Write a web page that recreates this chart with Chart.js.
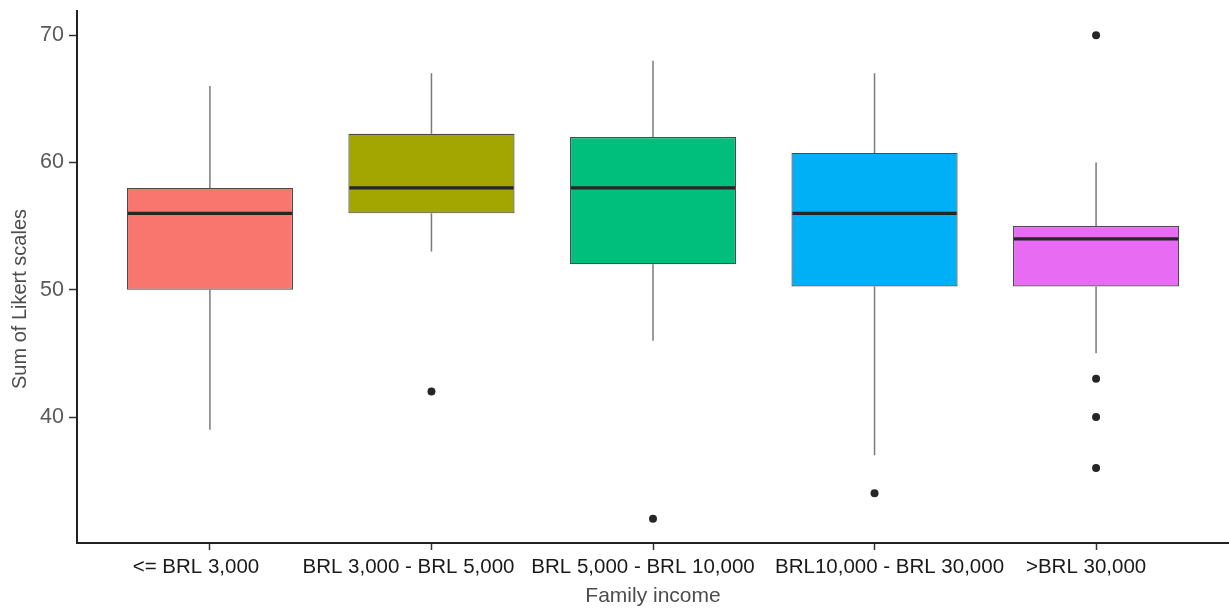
<!DOCTYPE html>
<html>
<head>
<meta charset="utf-8">
<title>Sum of Likert scales by family income</title>
<script src="https://cdn.jsdelivr.net/npm/chart.js@4/dist/chart.umd.min.js"></script>
<style>
  html, body { margin: 0; padding: 0; background: #ffffff; }
  #wrap { width: 1229px; height: 610px; position: relative; }
</style>
</head>
<body>
<div id="wrap"><canvas id="chart"></canvas></div>
<script>
// Income groups and box-plot summaries (Sum of Likert scales)
const categories = ['<= BRL 3,000', 'BRL 3,000 - BRL 5,000', 'BRL 5,000 - BRL 10,000', 'BRL10,000 - BRL 30,000', '>BRL 30,000'];
const whiskerLow  = [39, 53, 46, 37, 45];
const q1          = [50, 56, 52, 50.25, 50.25];
const median      = [56, 58, 58, 56, 54];
const q3          = [58, 62.25, 62, 60.75, 55];
const whiskerHigh = [66, 67, 68, 67, 60];
const outliers    = [[], [42], [32], [34], [70, 43, 40, 36]];
const yTicks      = [40, 50, 60, 70];

const palette = ['#F8766D', '#A3A500', '#00BF7D', '#00B0F6', '#E76BF3'];
const FONT = '"Liberation Sans", Arial, Helvetica, sans-serif';
// horizontal nudge of each category label relative to its tick (px)
const labelNudge = [-14, -23, -10, 15, -10];

const boxData = categories.map((c, i) => ({ x: i + 1, y: [q1[i], q3[i]] }));
const outlierData = [];
outliers.forEach((vals, i) => vals.forEach(v => outlierData.push({ x: i + 1, y: v })));

// Whiskers and median lines, positioned through the chart scales
const boxExtras = {
  id: 'boxExtras',
  afterDatasetsDraw(chart) {
    const { ctx, scales: { x, y } } = chart;
    const meta = chart.getDatasetMeta(0);
    ctx.save();
    categories.forEach((c, i) => {
      const cx = x.getPixelForValue(i + 1);
      ctx.strokeStyle = '#7a7a7a';
      ctx.lineWidth = 1.5;
      ctx.beginPath();
      ctx.moveTo(cx, y.getPixelForValue(q3[i]));
      ctx.lineTo(cx, y.getPixelForValue(whiskerHigh[i]));
      ctx.moveTo(cx, y.getPixelForValue(q1[i]));
      ctx.lineTo(cx, y.getPixelForValue(whiskerLow[i]));
      ctx.stroke();

      const bar = meta.data[i];
      const half = bar.width / 2;
      const my = y.getPixelForValue(median[i]);
      ctx.strokeStyle = '#262626';
      ctx.lineWidth = 3.3;
      ctx.beginPath();
      ctx.moveTo(bar.x - half + 1, my);
      ctx.lineTo(bar.x + half - 1, my);
      ctx.stroke();
    });
    ctx.restore();
  }
};

// Category labels under the x axis and the y-axis title
const axisText = {
  id: 'axisText',
  afterDraw(chart) {
    const { ctx, chartArea, scales: { x } } = chart;
    ctx.save();
    ctx.fillStyle = '#1a1a1a';
    ctx.font = '20.5px ' + FONT;
    ctx.textAlign = 'center';
    ctx.textBaseline = 'middle';
    categories.forEach((c, i) => {
      ctx.fillText(c, x.getPixelForValue(i + 1) + labelNudge[i], x.top + 24);
    });

    ctx.translate(20, (chartArea.top + chartArea.bottom) / 2 + 22);
    ctx.rotate(-Math.PI / 2);
    ctx.fillStyle = '#4d4d4d';
    ctx.font = '20px ' + FONT;
    ctx.fillText('Sum of Likert scales', 0, 0);
    ctx.restore();
  }
};

// Keep the plot area edges exactly where the layout padding puts them
function noEdgePadding(scale) {
  scale.paddingTop = 0;
  scale.paddingBottom = 0;
  scale.paddingLeft = 0;
  scale.paddingRight = 0;
}

new Chart(document.getElementById('chart'), {
  type: 'bar',
  data: {
    datasets: [
      {
        type: 'bar',
        data: boxData,
        backgroundColor: palette,
        borderColor: '#4a4a4a',
        borderWidth: 1.2,
        borderSkipped: false,
        barPercentage: 0.75,
        categoryPercentage: 1,
        order: 2
      },
      {
        type: 'scatter',
        data: outlierData,
        pointRadius: 4,
        pointBackgroundColor: '#262626',
        pointBorderWidth: 0,
        showLine: false,
        clip: false,
        order: 1
      }
    ]
  },
  options: {
    responsive: true,
    maintainAspectRatio: false,
    animation: false,
    events: [],
    layout: { autoPadding: false, padding: { top: 11, right: 0, left: 0, bottom: 0 } },
    plugins: { legend: { display: false }, tooltip: { enabled: false } },
    scales: {
      x: {
        type: 'linear',
        min: 0.4,
        max: 5.6,
        offset: false,
        afterBuildTicks(scale) { scale.ticks = categories.map((c, i) => ({ value: i + 1 })); },
        afterFit(scale) { scale.height = 67; noEdgePadding(scale); },
        ticks: { display: false },
        grid: { offset: false, drawOnChartArea: false, drawTicks: true, tickLength: 7, tickColor: '#333333', tickWidth: 1.5 },
        border: { display: true, color: '#222222', width: 2 },
        title: {
          display: true,
          text: 'Family income',
          color: '#4d4d4d',
          font: { family: FONT, size: 21 },
          padding: { top: 0, bottom: 1 }
        }
      },
      y: {
        min: 30.1,
        max: 71.9,
        afterBuildTicks(scale) { scale.ticks = yTicks.map(v => ({ value: v })); },
        afterFit(scale) { scale.width = 77; noEdgePadding(scale); },
        ticks: {
          color: '#595959',
          font: { family: FONT, size: 21.5 },
          padding: 5
        },
        grid: { drawOnChartArea: false, drawTicks: true, tickLength: 8, tickColor: '#333333', tickWidth: 1.5 },
        border: { display: true, color: '#222222', width: 2 },
        title: { display: false }
      }
    }
  },
  plugins: [boxExtras, axisText]
});
</script>
</body>
</html>
